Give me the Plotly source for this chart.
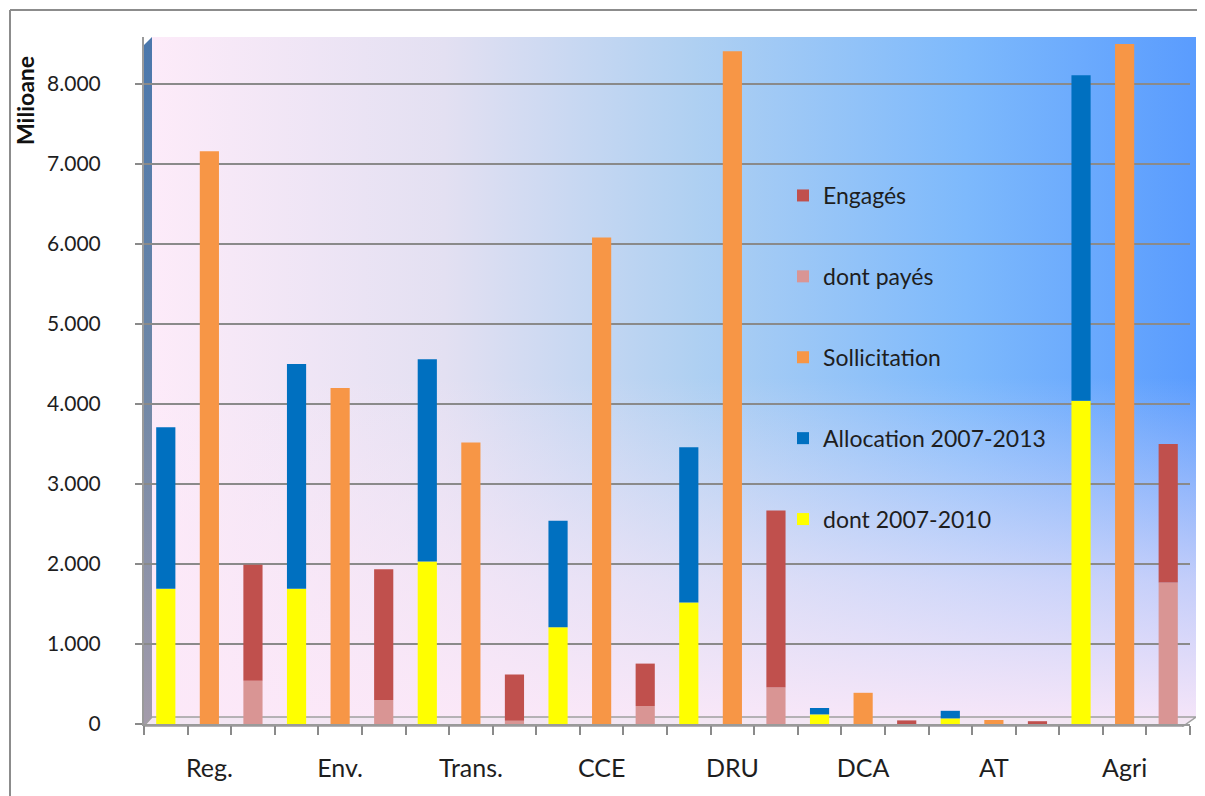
import base64
import plotly.graph_objects as go

# ---------------- data (millions) ----------------
categories = ["Reg.", "Env.", "Trans.", "CCE", "DRU", "DCA", "AT", "Agri"]
dont_2007_2010 = [1690, 1690, 2030, 1210, 1520, 120, 70, 4040]
allocation_2007_2013 = [3710, 4500, 4560, 2540, 3460, 200, 165, 8110]
sollicitation = [7160, 4200, 3520, 6080, 8410, 390, 50, 8500]
dont_payes = [540, 300, 40, 225, 455, 0, 0, 1770]
engages = [1990, 1935, 620, 755, 2670, 45, 35, 3500]
y_ticks = [0, 1000, 2000, 3000, 4000, 5000, 6000, 7000, 8000]

# ---------------- geometry (page pixels; page body has an 8px margin) ----------------
OFF = 8
W, H = 1205 - OFF, 796 - OFF
ML, MR, MT, MB = 144 - OFF, 15, 37 - OFF, 72
PW, PH = W - ML - MR, H - MT - MB
PX_PER_UNIT = 80 / 1000.0
Y_MAX = PH / PX_PER_UNIT


def px2x(px):
    return (px - OFF - ML) / PW


def px2y(py):
    return (H - MB - (py - OFF)) / PH


FONT = "Lato"
TXT = "#1e1e1e"
GRID = "#8a8a8a"

# ---------------- background (walls) as svg ----------------
bx0, bx1, by0, by1 = 143, 1196, 37, 727
sw, sh = bx1 - bx0, by1 - by0
svg = f"""<svg xmlns='http://www.w3.org/2000/svg' width='{sw}' height='{sh}' viewBox='0 0 {sw} {sh}' preserveAspectRatio='none'>
<defs>
<linearGradient id='h' x1='0' y1='0' x2='1' y2='0'>
<stop offset='0' stop-color='#FDEBF9'/>
<stop offset='0.28' stop-color='#E3E0F2'/>
<stop offset='0.52' stop-color='#AFD0F2'/>
<stop offset='0.78' stop-color='#7DB9FC'/>
<stop offset='1' stop-color='#5A9CFE'/>
</linearGradient>
<linearGradient id='v' x1='0' y1='0' x2='0' y2='1'>
<stop offset='0' stop-color='#FCE8F8' stop-opacity='0'/>
<stop offset='0.5' stop-color='#FCE8F8' stop-opacity='0'/>
<stop offset='0.8' stop-color='#FCE8F8' stop-opacity='0.65'/>
<stop offset='1' stop-color='#FCE8F8' stop-opacity='0.95'/>
</linearGradient>
<linearGradient id='w' x1='0' y1='0' x2='0' y2='1'>
<stop offset='0' stop-color='#4A77AC'/>
<stop offset='0.5' stop-color='#6F87A6'/>
<stop offset='1' stop-color='#A49CAB'/>
</linearGradient>
</defs>
<rect x='9' y='0' width='{sw - 9}' height='{sh - 10}' fill='url(#h)'/>
<rect x='9' y='0' width='{sw - 9}' height='{sh - 10}' fill='url(#v)'/>
<polygon points='0,9 9,0 9,{sh - 10} 0,{sh}' fill='url(#w)'/>
<polygon points='0,{sh} 9,{sh - 10} {sw},{sh - 10} {sw - 14},{sh}' fill='#F3E6F3' stroke='#A0A0A0' stroke-width='1.5'/>
</svg>"""
svg_uri = "data:image/svg+xml;base64," + base64.b64encode(svg.encode()).decode()

# ---------------- traces ----------------
alloc_top = [a - d for a, d in zip(allocation_2007_2013, dont_2007_2010)]
eng_top = [e - p for e, p in zip(engages, dont_payes)]

fig = go.Figure()
common = dict(x=categories, xaxis="x", yaxis="y", marker_line_width=0, hoverinfo="y+name")
fig.add_trace(go.Bar(name="dont 2007-2010", y=dont_2007_2010, offsetgroup="a",
                     legendgroup="g5", legendrank=5, marker_color="#FFFF00", **common))
fig.add_trace(go.Bar(name="Allocation 2007-2013", y=alloc_top, base=dont_2007_2010,
                     offsetgroup="a", legendgroup="g4", legendrank=4,
                     marker_color="#0070C0", **common))
fig.add_trace(go.Bar(name="Sollicitation", y=sollicitation, offsetgroup="b",
                     legendgroup="g3", legendrank=3, marker_color="#F79646", **common))
fig.add_trace(go.Bar(name="dont payés", y=dont_payes, offsetgroup="c",
                     legendgroup="g2", legendrank=2, marker_color="#D99594", **common))
fig.add_trace(go.Bar(name="Engagés", y=eng_top, base=dont_payes, offsetgroup="c",
                     legendgroup="g1", legendrank=1, marker_color="#C0504D", **common))
# invisible helper so that the tick-only overlay axes are drawn
fig.add_trace(go.Scatter(x=list(range(len(categories))), y=[0] * len(categories),
                         xaxis="x2", yaxis="y2", mode="none", showlegend=False,
                         hoverinfo="skip"))

fig.update_layout(
    width=W, height=H,
    margin=dict(l=ML, r=MR, t=MT, b=MB, pad=0),
    paper_bgcolor="white",
    plot_bgcolor="rgba(0,0,0,0)",
    barmode="group", bargap=0.0, bargroupgap=0.56,
    separators=",.",
    font=dict(family=FONT, color=TXT, size=21),
    showlegend=True,
    legend=dict(x=px2x(783), y=px2y(174), xanchor="left", yanchor="top",
                bgcolor="rgba(0,0,0,0)", traceorder="grouped",
                tracegroupgap=48, font=dict(family=FONT, size=23, color=TXT)),
    xaxis=dict(type="category", range=[-0.5, len(categories) - 0.5],
               showgrid=False, zeroline=False, ticks="", showline=False,
               tickfont=dict(family=FONT, size=25, color=TXT),
               ticklabelstandoff=27, fixedrange=True),
    xaxis2=dict(overlaying="x", range=[-0.5, len(categories) - 0.5],
                tick0=-0.5, dtick=1 / 3, ticks="outside", ticklen=9, tickwidth=2,
                tickcolor="#8a8a8a", showticklabels=False, showgrid=False,
                zeroline=False, showline=True, linecolor="#9a9a9a", linewidth=2,
                side="bottom", anchor="y"),
    yaxis=dict(range=[0, Y_MAX], tickvals=y_ticks, tickformat=",d",
               showgrid=True, gridcolor=GRID, gridwidth=2, zeroline=False,
               ticks="outside", ticklen=38, tickwidth=1, tickcolor="rgba(0,0,0,0)",
               showline=False,
               tickfont=dict(family=FONT, size=21, color=TXT)),
    yaxis2=dict(overlaying="y", range=[0, Y_MAX], tickvals=y_ticks,
                showticklabels=False, showgrid=False, zeroline=False,
                ticks="outside", ticklen=7, tickwidth=2, tickcolor="#8a8a8a",
                showline=True, linecolor="#9a9a9a", linewidth=2,
                side="left", anchor="x"),
    images=[dict(source=svg_uri, xref="paper", yref="paper",
                 x=px2x(bx0), y=px2y(by0), sizex=sw / PW, sizey=sh / PH,
                 xanchor="left", yanchor="top", sizing="stretch", layer="below")],
    annotations=[dict(text="<b>Milioane</b>", textangle=-90, xref="paper", yref="paper",
                      x=px2x(25), y=px2y(101), xanchor="center", yanchor="middle",
                      showarrow=False,
                      font=dict(family=FONT, size=23, color="#111111"))],
    shapes=[
        dict(type="line", xref="paper", yref="paper", x0=px2x(10), x1=px2x(1215),
             y0=px2y(10), y1=px2y(10), line=dict(color="#8c8c8c", width=2)),
        dict(type="line", xref="paper", yref="paper", x0=px2x(10), x1=px2x(10),
             y0=px2y(10), y1=px2y(810), line=dict(color="#8c8c8c", width=2)),
    ],
)

fig.write_html("out.html")
